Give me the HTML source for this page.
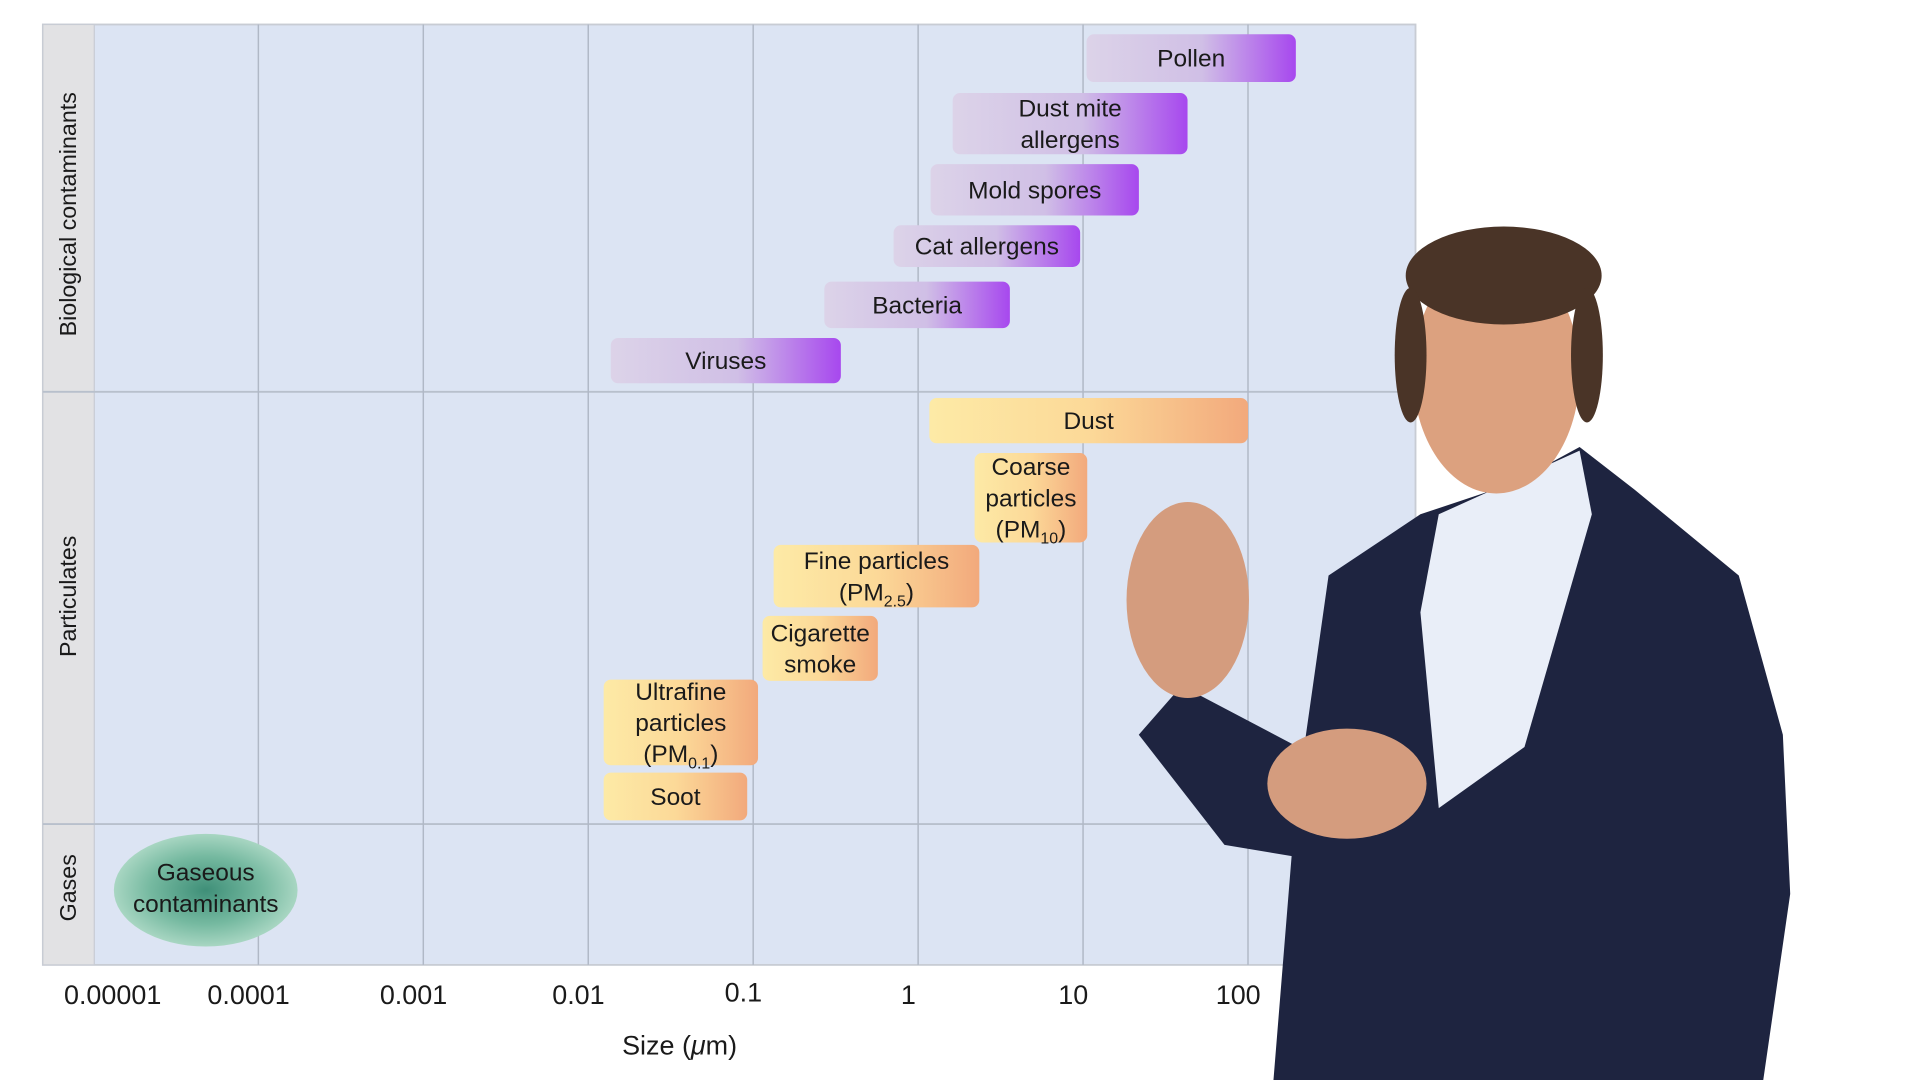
<!DOCTYPE html>
<html><head><meta charset="utf-8"><style>
html,body{margin:0;padding:0;background:#fff;overflow:hidden}
svg{display:block}
text{font-family:"Liberation Sans",sans-serif;fill:#1a1a1a}
</style></head><body>
<svg id="chart" width="1920" height="1080" viewBox="0 0 1568 882" preserveAspectRatio="none" xmlns="http://www.w3.org/2000/svg">
<defs>
<linearGradient id="gp" x1="0" x2="1" y1="0" y2="0"><stop offset="0" stop-color="#dcd3e8"/><stop offset="0.55" stop-color="#d0bfe6"/><stop offset="1" stop-color="#a748ee"/></linearGradient>
<linearGradient id="go" x1="0" x2="1" y1="0" y2="0"><stop offset="0" stop-color="#fdeaa6"/><stop offset="0.5" stop-color="#fcd998"/><stop offset="1" stop-color="#f2a97c"/></linearGradient>
<radialGradient id="gg"><stop offset="0" stop-color="#3f8f78"/><stop offset="0.6" stop-color="#75b9a0"/><stop offset="1" stop-color="#a8d6c2"/></radialGradient>
</defs>
<rect x="0" y="0" width="1568" height="882" fill="#ffffff"/>
<g id="frame"></g>
<g id="grid"></g>
<g id="bars"></g>
<g id="axis"></g>
<g id="person">
  <polygon points="1040,882 1058,660 1085,470 1160,420 1235,395 1290,365 1335,400 1420,470 1456,600 1462,730 1440,882" fill="#1e2440"/>
  <polygon points="930,600 965,560 1060,610 1060,700 1000,690" fill="#1e2440"/>
  <polygon points="1175,420 1290,368 1300,420 1245,610 1175,660 1160,500" fill="#e9eef8"/>
  <ellipse cx="1222" cy="305" rx="68" ry="98" fill="#dca17f"/>
  <ellipse cx="1228" cy="225" rx="80" ry="40" fill="#4a3427"/>
  <ellipse cx="1152" cy="290" rx="13" ry="55" fill="#4a3427"/>
  <ellipse cx="1296" cy="290" rx="13" ry="55" fill="#4a3427"/>
  <ellipse cx="970" cy="490" rx="50" ry="80" fill="#d49c7e"/>
  <ellipse cx="1100" cy="640" rx="65" ry="45" fill="#d49c7e"/>
</g>
<script>
const categories = ["Pollen","Dust mite|allergens","Mold spores","Cat allergens","Bacteria","Viruses","Dust","Coarse|particles|(PM10)","Fine particles|(PM2.5)","Cigarette|smoke","Ultrafine|particles|(PM0.1)","Soot"];
const minSize = [10.5, 1.62, 1.19, 0.71, 0.27, 0.0137, 1.17, 2.2, 0.133, 0.114, 0.0124, 0.0124];
const maxSize = [195, 43, 21.8, 9.6, 3.6, 0.34, 100, 10.6, 2.35, 0.57, 0.107, 0.092];
const groups = ["bio","bio","bio","bio","bio","bio","part","part","part","part","part","part"];
const tickValues = [0.00001,0.0001,0.001,0.01,0.1,1,10,100];
const tickLabels = ["0.00001","0.0001","0.001","0.01","0.1","1","10","100"];
const layoutTop = [28,76,134,184,230,276,325,370,445,503,555,631];
const layoutBot = [67,126,176,218,268,313,362,443,496,556,625,670];
const NS="http://www.w3.org/2000/svg";
function X(v){return 211+(Math.log10(v)+4)*134.7;}
function mk(p,tag,attrs){const e=document.createElementNS(NS,tag);for(const k in attrs)e.setAttribute(k,attrs[k]);p.appendChild(e);return e;}
function ts(p,txt,attrs){const e=mk(p,'tspan',attrs||{});e.textContent=txt;return e;}
const frame=document.getElementById('frame');
let r=mk(frame,'rect',{x:35,y:20,width:1121,height:768,fill:'#dce4f3',stroke:'#c8ccd4','stroke-width':1.5});


r=mk(frame,'rect',{x:35,y:20,width:42,height:768,fill:'#e2e2e4',stroke:'#c8ccd4'});


[320,673].forEach(y=>{const l=mk(frame,'line',{x1:35,x2:1156,y1:y,y2:y,stroke:'#b8c0cc','stroke-width':1.5});

});
[["Biological contaminants",175],["Particulates",487],["Gases",725]].forEach(([t,y])=>{
 const e=mk(frame,'text',{x:0,y:0,'font-size':19,'text-anchor':'middle',transform:`translate(62,${y}) rotate(-90)`});e.textContent=t;
 
 });
const grid=document.getElementById('grid'), axis=document.getElementById('axis');
tickValues.forEach((v,i)=>{
 const x=X(v);
 if(i>0){const l=mk(grid,'line',{x1:x,x2:x,y1:20,y2:788,stroke:'#b0b8c6','stroke-width':1.2});
 
 }
 const t=mk(axis,'text',{x:i==0?92:x-8,y:i==4?818:820,'font-size':22,'text-anchor':'middle'});t.textContent=tickLabels[i];
 
 
});
const at=mk(axis,'text',{x:555,y:861,'font-size':22,'text-anchor':'middle'});
ts(at,'Size (');ts(at,'μ',{'font-style':'italic'});ts(at,'m)');


const bars=document.getElementById('bars');
categories.forEach((c,i)=>{
 const g=mk(bars,'g',{});
 
 
 const x0=X(minSize[i]),x1=X(maxSize[i]),y0=layoutTop[i],y1=layoutBot[i];
 mk(g,'rect',{x:x0,y:y0,width:x1-x0,height:y1-y0,rx:6,fill:groups[i]=='bio'?'url(#gp)':'url(#go)'});
 const lines=c.split('|'),cy=(y0+y1)/2,lh=25.5;
 lines.forEach((ln,j)=>{
  const t=mk(g,'text',{x:(x0+x1)/2,y:cy+(j-(lines.length-1)/2)*lh+7,'font-size':20,'text-anchor':'middle'});
  const m=ln.match(/^\(PM([\d.]+)\)$/);
  if(m){ts(t,'(PM');ts(t,m[1],{'font-size':13,dy:5});ts(t,')',{dy:-5});}
  else t.textContent=ln;
 });
});
const gg=mk(bars,'g',{});


mk(gg,'ellipse',{cx:168,cy:727,rx:75,ry:46,fill:'url(#gg)'});
['Gaseous','contaminants'].forEach((s,j)=>{const t=mk(gg,'text',{x:168,y:719+j*26,'font-size':20,'text-anchor':'middle'});t.textContent=s;});
</script>
</svg>
</body></html>
